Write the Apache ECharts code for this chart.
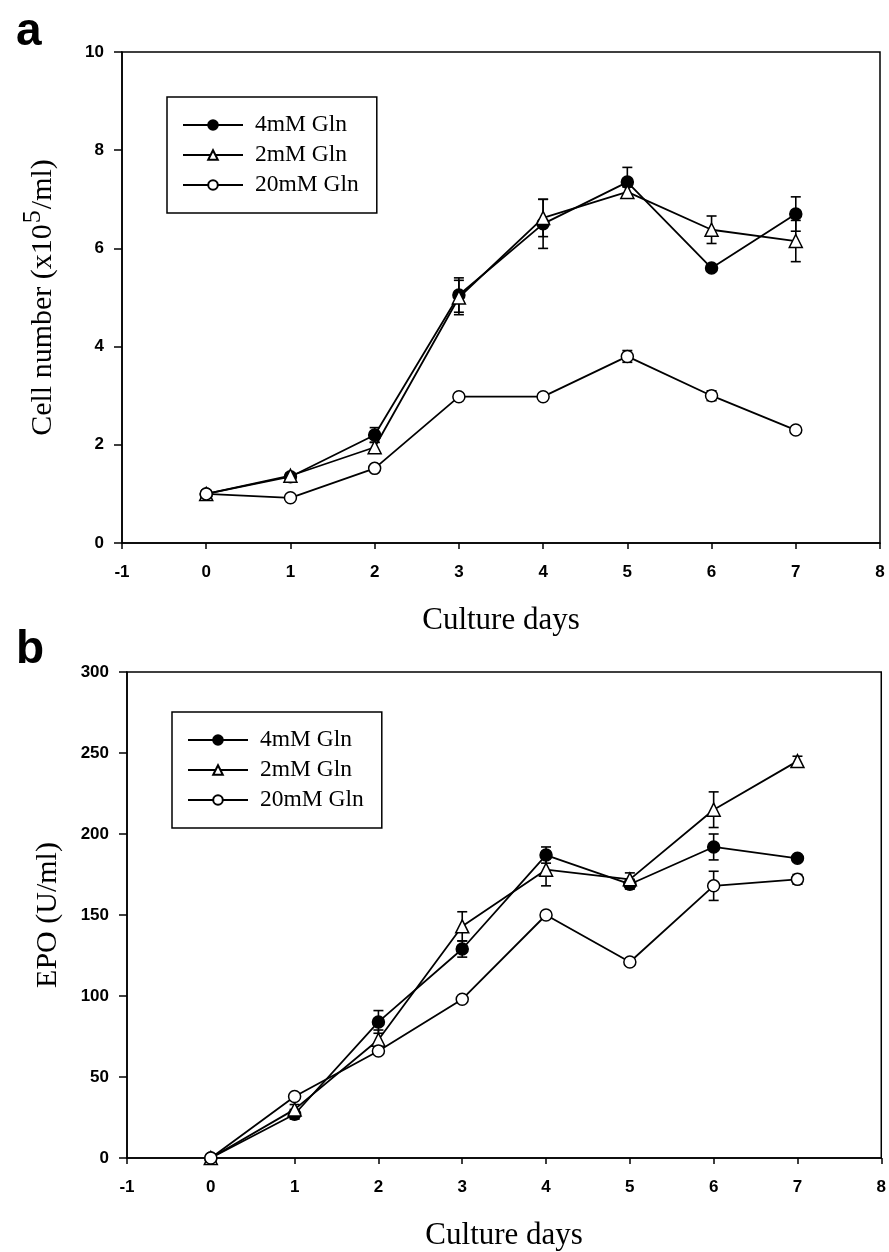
<!DOCTYPE html>
<html>
<head>
<meta charset="utf-8">
<script src="https://cdn.jsdelivr.net/npm/echarts@6/dist/echarts.min.js"></script>
<style>
html,body{margin:0;padding:0;background:#fff;}
#chart{width:889px;height:1252px;}
</style>
</head>
<body>
<div id="chart"></div>
<script>
// ---- data ----
const days = [0, 1, 2, 3, 4, 5, 6, 7];
const seriesNames = ['4mM Gln', '2mM Gln', '20mM Gln'];
const xTickLabels = ['-1', '0', '1', '2', '3', '4', '5', '6', '7', '8'];

// Panel a: cell number (x10^5/ml)
const cellGln4  = [1.0, 1.35, 2.2, 5.05, 6.5, 7.35, 5.6, 6.7];
const cellGln2  = [1.0, 1.37, 1.95, 5.0, 6.62, 7.15, 6.38, 6.15];
const cellGln20 = [1.0, 0.92, 1.52, 2.98, 2.98, 3.8, 3.0, 2.3];
const cellErr4  = [0, 0.05, 0.15, 0.35, 0.5, 0.3, 0.05, 0.35];
const cellErr2  = [0, 0.05, 0.1, 0.35, 0.38, 0.1, 0.28, 0.42];
const cellErr20 = [0, 0, 0.05, 0.05, 0, 0.12, 0.1, 0.05];

// Panel b: EPO (U/ml)
const epoGln4  = [0, 27, 84, 129, 187, 169, 192, 185];
const epoGln2  = [0, 30, 73, 143, 178, 172, 215, 245];
const epoGln20 = [0, 38, 66, 98, 150, 121, 168, 172];
const epoErr4  = [0, 3, 7, 5, 5, 3, 8, 0];
const epoErr2  = [0, 3, 6, 9, 10, 4, 11, 3];
const epoErr20 = [0, 0, 0, 0, 0, 0, 9, 3];

// ---- styles ----
const SERIF = '"Liberation Serif", "Times New Roman", serif';
const SANS = '"Liberation Sans", Arial, sans-serif';
const markerStyles = [
  { symbol: 'circle', itemStyle: { color: '#000', borderColor: '#000', borderWidth: 1.5 } },
  { symbol: 'triangle', itemStyle: { color: '#fff', borderColor: '#000', borderWidth: 1.5 } },
  { symbol: 'circle', itemStyle: { color: '#fff', borderColor: '#000', borderWidth: 1.5 } }
];

function pairs(xs, ys) { return xs.map((x, i) => [x, ys[i]]); }
function errTriples(xs, ys, es) { return xs.map((x, i) => [x, ys[i], es[i]]); }

function lineSeries(name, idx, values, axisIdx) {
  return Object.assign({
    name: name,
    type: 'line',
    xAxisIndex: axisIdx,
    yAxisIndex: axisIdx,
    data: pairs(days, values),
    symbolSize: idx === 1 ? 13 : 12,
    lineStyle: { color: '#000', width: 1.8 },
    z: 3,
    animation: false
  }, markerStyles[idx]);
}

function errSeries(values, errs, axisIdx) {
  return {
    type: 'custom',
    xAxisIndex: axisIdx,
    yAxisIndex: axisIdx,
    data: errTriples(days, values, errs),
    z: 2,
    silent: true,
    animation: false,
    renderItem: function (params, api) {
      const x = api.value(0), y = api.value(1), e = api.value(2);
      if (!e) return null;
      const top = api.coord([x, y + e]);
      const bot = api.coord([x, y - e]);
      const cw = 5;
      const st = { stroke: '#000', lineWidth: 1.6 };
      return {
        type: 'group',
        children: [
          { type: 'line', shape: { x1: top[0], y1: top[1], x2: bot[0], y2: bot[1] }, style: st },
          { type: 'line', shape: { x1: top[0] - cw, y1: top[1], x2: top[0] + cw, y2: top[1] }, style: st },
          { type: 'line', shape: { x1: bot[0] - cw, y1: bot[1], x2: bot[0] + cw, y2: bot[1] }, style: st }
        ]
      };
    }
  };
}

function xAxisDef(gridIdx) {
  return {
    type: 'value', gridIndex: gridIdx, min: -1, max: 8, interval: 1,
    name: 'Culture days', nameLocation: 'middle', nameGap: 62,
    nameTextStyle: { fontFamily: SERIF, fontSize: 31, color: '#000' },
    axisLine: { show: true, onZero: false, lineStyle: { color: '#000', width: 1.5 } },
    axisTick: { show: true, inside: false, length: 6, lineStyle: { color: '#000', width: 1.5 } },
    axisLabel: { fontFamily: SANS, fontSize: 17, fontWeight: 'bold', color: '#000', margin: 21,
      formatter: v => xTickLabels[Math.round(v) + 1] },
    splitLine: { show: false }
  };
}

function yAxisDef(gridIdx, max, interval, name, rich) {
  return {
    type: 'value', gridIndex: gridIdx, min: 0, max: max, interval: interval,
    name: name, nameLocation: 'middle', nameGap: 64,
    nameTextStyle: { fontFamily: SERIF, fontSize: 30, color: '#000', rich: rich },
    axisLine: { show: true, onZero: false, lineStyle: { color: '#000', width: 1.5 } },
    axisTick: { show: true, inside: false, length: 8, lineStyle: { color: '#000', width: 1.5 } },
    axisLabel: { fontFamily: SANS, fontSize: 17, fontWeight: 'bold', color: '#000', margin: 18 },
    splitLine: { show: false }
  };
}

function legendDef(left, top) {
  return {
    left: left, top: top, orient: 'vertical',
    data: seriesNames,
    backgroundColor: '#fff',
    borderColor: '#000', borderWidth: 1.5, borderRadius: 0,
    padding: [16, 18, 16, 15],
    itemWidth: 60, itemHeight: 12, itemGap: 6,
    selectedMode: false,
    textStyle: { fontFamily: SERIF, fontSize: 23.5, color: '#000', lineHeight: 23, padding: [0, 0, 0, 7] }
  };
}

const chart = echarts.init(document.getElementById('chart'), null, { renderer: 'canvas' });

const option = {
  backgroundColor: '#fff',
  animation: false,
  graphic: [
    { type: 'text', left: 16, top: 9, style: { text: 'a', font: 'bold 46px ' + SANS, fill: '#000' } },
    { type: 'text', left: 16, top: 627, style: { text: 'b', font: 'bold 46px ' + SANS, fill: '#000' } }
  ],
  grid: [
    { left: 122, top: 52, width: 758, height: 491, show: true, borderColor: '#000', borderWidth: 1.5, backgroundColor: 'transparent' },
    { left: 127, top: 672, width: 757, height: 490, show: true, borderColor: '#000', borderWidth: 1.5, backgroundColor: 'transparent' }
  ],
  legend: [legendDef(167, 97), legendDef(172, 712)],
  xAxis: [xAxisDef(0), xAxisDef(1)],
  yAxis: [
    yAxisDef(0, 10, 2, '{t|Cell number (x10}{s|5}{t|/ml)}', {
      t: { fontFamily: SERIF, fontSize: 30, color: '#000', verticalAlign: 'bottom', lineHeight: 34 },
      s: { fontFamily: SERIF, fontSize: 26, color: '#000', verticalAlign: 'bottom', lineHeight: 26, padding: [0, 1, 12, 1] }
    }),
    yAxisDef(1, 300, 50, 'EPO (U/ml)', null)
  ],
  series: [
    errSeries(cellGln4, cellErr4, 0),
    errSeries(cellGln2, cellErr2, 0),
    errSeries(cellGln20, cellErr20, 0),
    lineSeries(seriesNames[0], 0, cellGln4, 0),
    lineSeries(seriesNames[1], 1, cellGln2, 0),
    lineSeries(seriesNames[2], 2, cellGln20, 0),
    errSeries(epoGln4, epoErr4, 1),
    errSeries(epoGln2, epoErr2, 1),
    errSeries(epoGln20, epoErr20, 1),
    lineSeries(seriesNames[0], 0, epoGln4, 1),
    lineSeries(seriesNames[1], 1, epoGln2, 1),
    lineSeries(seriesNames[2], 2, epoGln20, 1)
  ]
};
chart.setOption(option);
</script>
</body>
</html>
